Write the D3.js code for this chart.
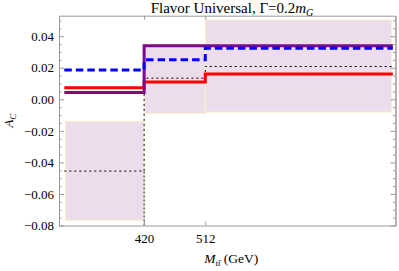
<!DOCTYPE html>
<html>
<head>
<meta charset="utf-8">
<script src="https://cdn.jsdelivr.net/npm/d3@7"></script>
<style>
  html, body { margin: 0; padding: 0; background: #fff; }
  svg { display: block; }
  text { font-family: "Liberation Serif", "DejaVu Serif", serif; }
</style>
</head>
<body>
<svg id="chart" width="399" height="271"></svg>
<script>
// ---- data ----
const binEdges   = [300, 420, 512, 794];      // M_tt bins (GeV) for the step lines
const boxEdges   = [302, 420, 512, 792];      // bins for the shaded measurement bands
const purpleVals = [0.0043, 0.0339, 0.0339];
const blueVals   = [0.0185, 0.0250, 0.0324];
const redVals    = [0.0073, 0.0110, 0.0161];
const measured   = [-0.0455, 0.0134, 0.0208];
const boxLow     = [-0.0767, -0.0090, -0.0081];
const boxHigh    = [-0.0140, 0.0349, 0.0503];
const xTicks     = [420, 512];
const yMajor     = [-0.08, -0.06, -0.04, -0.02, 0.00, 0.02, 0.04];
const yMinor     = [-0.075, -0.07, -0.065, -0.055, -0.05, -0.045, -0.035, -0.03, -0.025,
                    -0.015, -0.01, -0.005, 0.005, 0.01, 0.015, 0.025, 0.03, 0.035, 0.045, 0.05];

// ---- layout ----
const L = 59, R = 395.5, T = 15.7, B = 225.5;
const svg = d3.select("#chart");
const x = d3.scaleLinear().domain([292, 798]).range([L, R]);
const y = d3.scaleLinear().domain([-0.08, 0.053]).range([B, T]);
const axisColor = "#999";

// shaded bands
const boxes = boxLow.map((lo, i) => ({x0: boxEdges[i], x1: boxEdges[i + 1], lo, hi: boxHigh[i]}));
svg.append("g").selectAll("rect").data(boxes).join("rect")
  .attr("x", d => x(d.x0)).attr("width", d => x(d.x1) - x(d.x0))
  .attr("y", d => y(d.hi)).attr("height", d => y(d.lo) - y(d.hi))
  .attr("fill", "#ecdcec").attr("stroke", "#fbf0c8").attr("stroke-width", 1);

function stepPts(vals) {
  const pts = vals.map((v, i) => [binEdges[i], v]);
  pts.push([binEdges[binEdges.length - 1], vals[vals.length - 1]]);
  return pts;
}
const line = d3.line().x(d => x(d[0])).y(d => y(d[1])).curve(d3.curveStepAfter);

// measured central values (dotted) + drop line at 420
svg.append("line")
  .attr("x1", x(binEdges[1])).attr("x2", x(binEdges[1]))
  .attr("y1", y(-0.08)).attr("y2", y(measured[0]))
  .attr("stroke", "#222").attr("stroke-width", 1).attr("stroke-dasharray", "2,2");
svg.append("path").attr("d", line(stepPts(measured)))
  .attr("fill", "none").attr("stroke", "#000").attr("stroke-width", 1)
  .attr("stroke-dasharray", "2,3");

svg.append("path").attr("d", line(stepPts(redVals)))
  .attr("fill", "none").attr("stroke", "#ff0000").attr("stroke-width", 3);
svg.append("path").attr("d", line(stepPts(purpleVals)))
  .attr("fill", "none").attr("stroke", "#7a0a8a").attr("stroke-width", 3);
svg.append("path").attr("d", line(stepPts(blueVals)))
  .attr("fill", "none").attr("stroke", "#0000ff").attr("stroke-width", 3)
  .attr("stroke-dasharray", "7.5,4");

// ---- axes ----
function styleAxis(g) {
  g.select(".domain").attr("stroke", axisColor);
  g.selectAll(".tick line").attr("stroke", axisColor);
  g.selectAll(".tick text").attr("fill", "#000")
    .style("font-family", '"Liberation Serif", serif').style("font-size", "13px");
}
const fmt = d3.format(".2f");
svg.append("g").attr("transform", `translate(${L},0)`)
  .call(d3.axisLeft(y).tickValues(yMajor).tickFormat(fmt).tickSize(-5).tickPadding(5).tickSizeOuter(0))
  .call(styleAxis);
svg.append("g").attr("transform", `translate(${L},0)`)
  .call(d3.axisLeft(y).tickValues(yMinor).tickFormat("").tickSize(-2.5).tickSizeOuter(0))
  .call(styleAxis);
svg.append("g").attr("transform", `translate(${R},0)`)
  .call(d3.axisRight(y).tickValues(yMajor).tickFormat("").tickSize(-5).tickSizeOuter(0))
  .call(styleAxis);
svg.append("g").attr("transform", `translate(${R},0)`)
  .call(d3.axisRight(y).tickValues(yMinor).tickFormat("").tickSize(-2.5).tickSizeOuter(0))
  .call(styleAxis);
svg.append("g").attr("transform", `translate(0,${B})`)
  .call(d3.axisBottom(x).tickValues(xTicks).tickFormat(d3.format("d")).tickSize(-4).tickPadding(8).tickSizeOuter(0))
  .call(styleAxis);
svg.append("g").attr("transform", `translate(0,${T})`)
  .call(d3.axisTop(x).tickValues(xTicks).tickFormat("").tickSize(-4).tickSizeOuter(0))
  .call(styleAxis);

// ---- labels ----
const title = svg.append("text").attr("x", 232).attr("y", 12.5)
  .attr("text-anchor", "middle").style("font-size", "15px");
title.append("tspan").text("Flavor Universal, \u0393=0.2");
title.append("tspan").attr("font-style", "italic").text("m");
title.append("tspan").attr("font-style", "italic").attr("dy", 3).style("font-size", "10px").text("G");

const ylab = svg.append("text").attr("transform", `translate(13,${(T + B) / 2}) rotate(-90)`)
  .attr("text-anchor", "middle").style("font-size", "13px");
ylab.append("tspan").attr("font-style", "italic").text("A");
ylab.append("tspan").attr("font-style", "italic").attr("dy", 3).style("font-size", "9px").text("C");

const xlab = svg.append("text").attr("x", (L + R) / 2 + 4).attr("y", 263)
  .attr("text-anchor", "middle").style("font-size", "13.5px");
xlab.append("tspan").attr("font-style", "italic").text("M");
xlab.append("tspan").attr("font-style", "italic").attr("dy", 3).style("font-size", "9px").text("tt\u0304");
xlab.append("tspan").attr("dy", -3).text(" (GeV)");
</script>
</body>
</html>
